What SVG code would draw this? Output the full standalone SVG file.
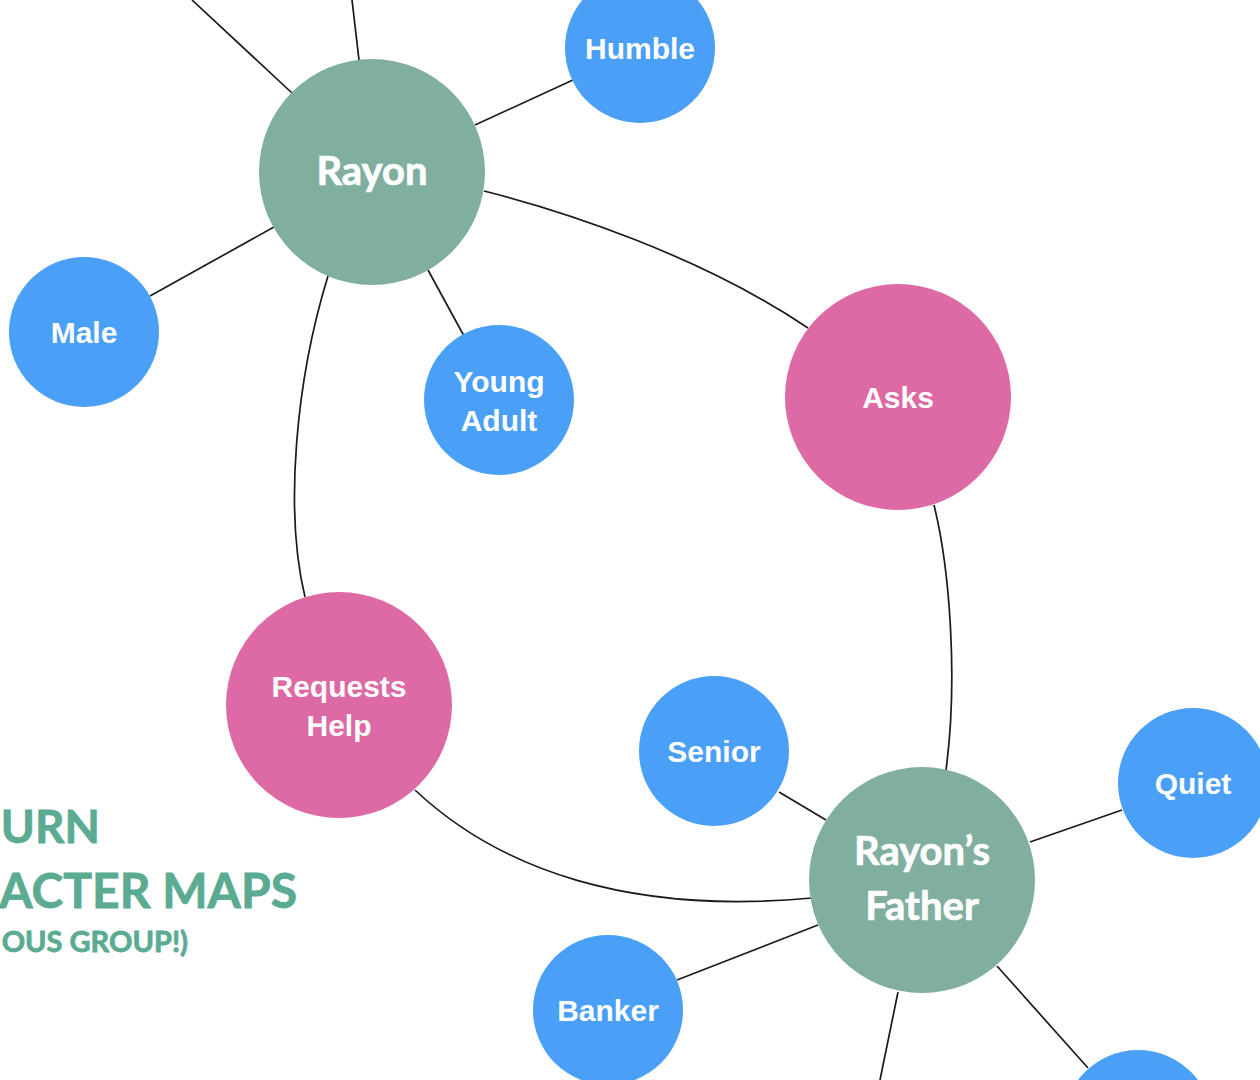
<svg xmlns="http://www.w3.org/2000/svg" width="1260" height="1080" viewBox="0 0 1260 1080">
<style>
.edge{fill:none;stroke:#1a1a1a;stroke-width:1.7}
.green{fill:#80ae9f}
.blue{fill:#4a9ff7}
.pink{fill:#dd69a5}
.lbl{font-family:"Liberation Sans",Arial,sans-serif;font-weight:bold;font-size:30px;fill:#fff;text-anchor:middle}
.big{font-family:Lato,"Open Sans",sans-serif;font-weight:bold;font-size:40px;fill:#fff;stroke:#fff;stroke-width:0.7;text-anchor:middle}
.title{font-family:Lato,"Open Sans",sans-serif;font-weight:bold;fill:#5aab92;stroke:#5aab92;stroke-width:0.8;text-anchor:end}
</style>
<rect width="1260" height="1080" fill="#fff"/>
<g id="connectors">
<line class="edge" x1="292" y1="93" x2="192" y2="0"/>
<line class="edge" x1="359" y1="60" x2="352" y2="0"/>
<line class="edge" x1="475" y1="125" x2="573" y2="80"/>
<line class="edge" x1="274" y1="227" x2="150" y2="296"/>
<line class="edge" x1="428" y1="270" x2="464" y2="336"/>
<path class="edge" d="M484,191 C560,210 700,255 808,328"/>
<path class="edge" d="M328,276 C296,380 284,510 305,597"/>
<path class="edge" d="M934,505 C950,570 958,680 946,770"/>
<path class="edge" d="M415,790 C500,870 630,915 812,898"/>
<line class="edge" x1="779" y1="792" x2="826" y2="820"/>
<line class="edge" x1="1122" y1="810" x2="1030" y2="842"/>
<line class="edge" x1="677" y1="980" x2="818" y2="925"/>
<line class="edge" x1="898" y1="992" x2="880" y2="1080"/>
<line class="edge" x1="997" y1="966" x2="1088" y2="1068"/>
</g>
<g id="title">
<text class="title" x="100" y="843" font-size="46">URN</text>
<text class="title" x="297" y="908" font-size="48">ACTER MAPS</text>
<text class="title" x="188" y="952" font-size="29">OUS GROUP!)</text>
</g>
<g id="rayon"><circle class="green" cx="372" cy="172" r="113"/><text class="big" x="372" y="185">Rayon</text></g>
<g id="humble"><circle class="blue" cx="640" cy="48" r="75"/><text class="lbl" x="640" y="59">Humble</text></g>
<g id="male"><circle class="blue" cx="84" cy="332" r="75"/><text class="lbl" x="84" y="343">Male</text></g>
<g id="young-adult"><circle class="blue" cx="499" cy="400" r="75"/><text class="lbl" x="499" y="392">Young</text><text class="lbl" x="499" y="431">Adult</text></g>
<g id="asks"><circle class="pink" cx="898" cy="397" r="113"/><text class="lbl" x="898" y="408">Asks</text></g>
<g id="requests-help"><circle class="pink" cx="339" cy="705" r="113"/><text class="lbl" x="339" y="697">Requests</text><text class="lbl" x="339" y="736">Help</text></g>
<g id="senior"><circle class="blue" cx="714" cy="751" r="75"/><text class="lbl" x="714" y="762">Senior</text></g>
<g id="rayons-father"><circle class="green" cx="922" cy="880" r="113"/><text class="big" x="922" y="865">Rayon’s</text><text class="big" x="922" y="920">Father</text></g>
<g id="quiet"><circle class="blue" cx="1193" cy="783" r="75"/><text class="lbl" x="1193" y="794">Quiet</text></g>
<g id="banker"><circle class="blue" cx="608" cy="1010" r="75"/><text class="lbl" x="608" y="1021">Banker</text></g>
<g id="bottom-node"><circle class="blue" cx="1138" cy="1125" r="75"/></g>
</svg>
